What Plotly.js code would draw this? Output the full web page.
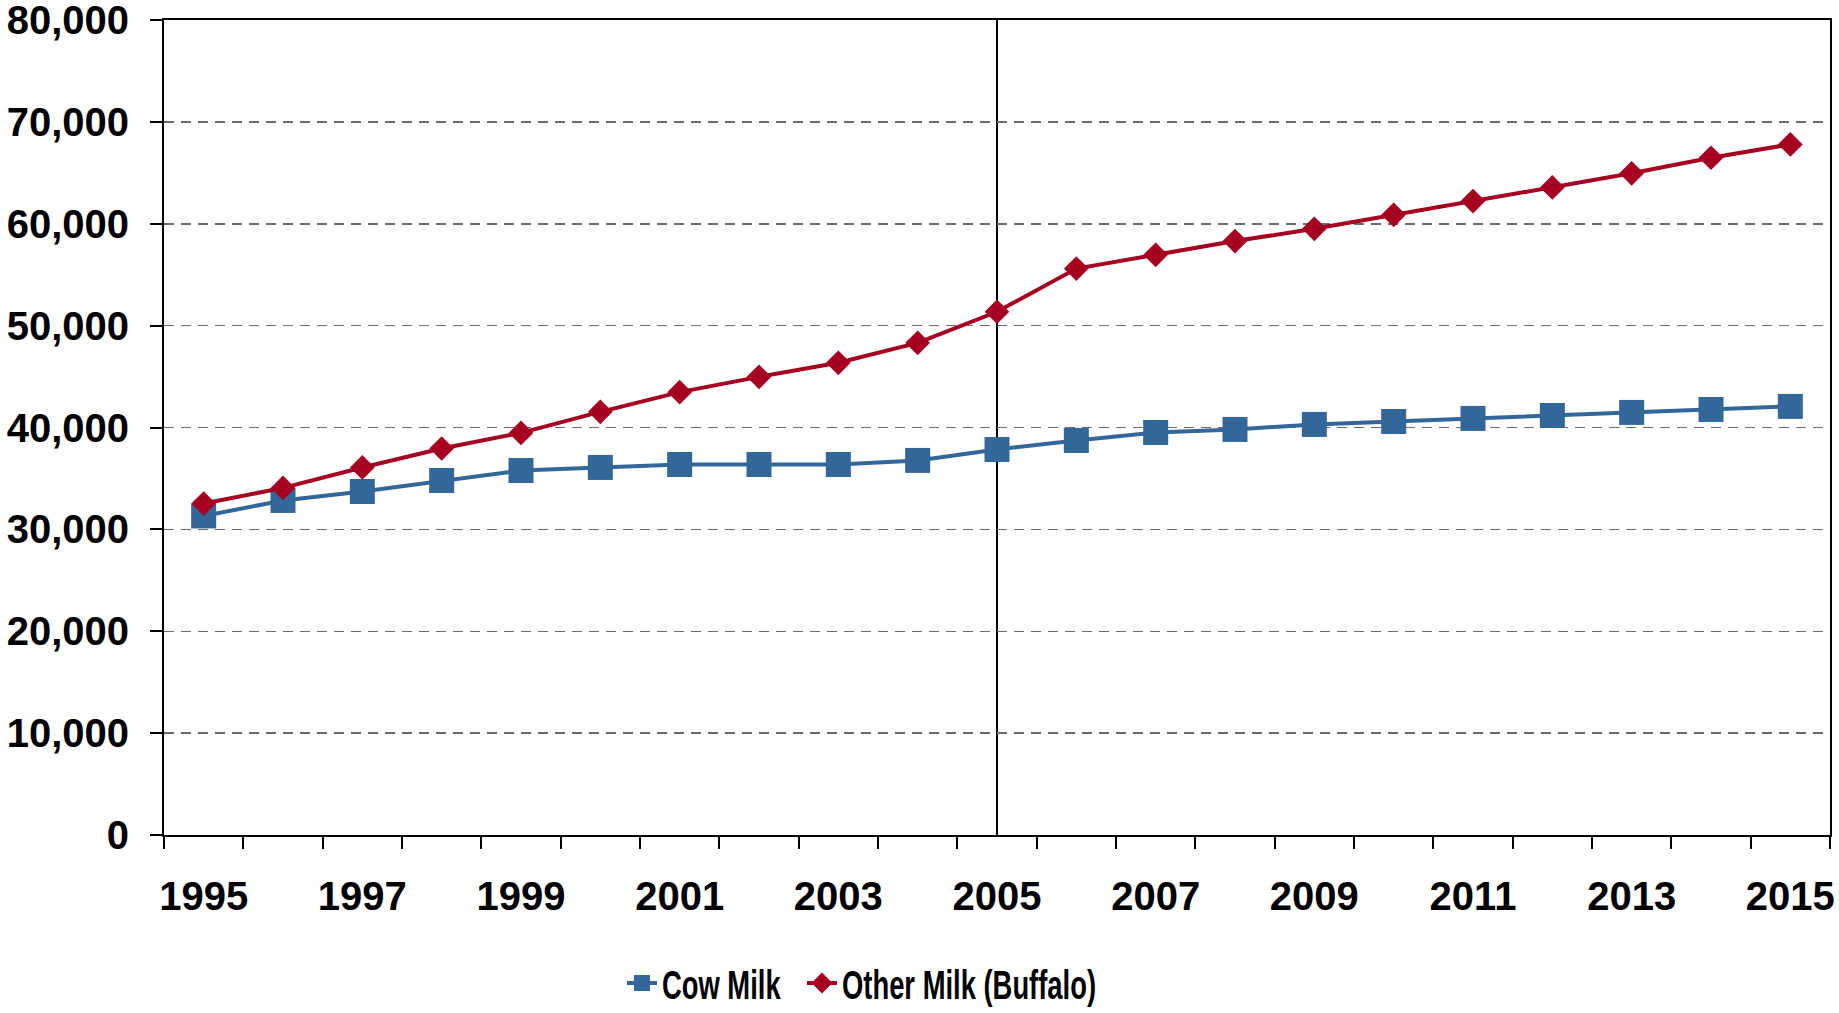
<!DOCTYPE html>
<html>
<head>
<meta charset="utf-8">
<script src="https://cdn.plot.ly/plotly-3.0.1.min.js"></script>
<style>
html,body{margin:0;padding:0;background:#fff;}
#chart{width:1839px;height:1013px;}
/* The reference legend text is horizontally condensed */
#chart .legendtext, #chart .legend2text{transform-box:fill-box;transform-origin:left center;transform:scaleX(0.685);}
</style>
</head>
<body>
<div id="chart"></div>
<script>
// Data
const years = [1995,1996,1997,1998,1999,2000,2001,2002,2003,2004,2005,2006,2007,2008,2009,2010,2011,2012,2013,2014,2015];
const cowMilk = [31320,32840,33720,34800,35780,36080,36370,36370,36370,36770,37840,38730,39510,39810,40300,40590,40890,41180,41480,41770,42070];
const otherMilk = [32540,34070,36080,37940,39470,41540,43470,44970,46350,48310,51360,55600,56950,58300,59500,60880,62230,63570,64950,66480,67790];
const labelYears = [1995,1997,1999,2001,2003,2005,2007,2009,2011,2013,2015];
const yTicks = [0,10000,20000,30000,40000,50000,60000,70000,80000];
const markerYear = 2005;
const seriesNames = ['Cow Milk', 'Other Milk (Buffalo)'];

const FONT = 'Liberation Sans, Arial, sans-serif';

const traces = [
  {
    x: years, y: cowMilk, name: seriesNames[0], type: 'scatter', mode: 'lines+markers',
    line: {color: '#336699', width: 4},
    marker: {symbol: 'square', size: 25, color: '#336699'},
    legend: 'legend'
  },
  {
    x: years, y: otherMilk, name: seriesNames[1], type: 'scatter', mode: 'lines+markers',
    line: {color: '#A50021', width: 4},
    marker: {symbol: 'diamond', size: 19, color: '#A50021'},
    legend: 'legend2'
  }
];

const legendFont = {family: FONT, size: 40, weight: 'bold', color: '#000'};

const layout = {
  width: 1839, height: 1013,
  margin: {l: 164, r: 9, t: 20, b: 178, autoexpand: false},
  paper_bgcolor: '#ffffff', plot_bgcolor: '#ffffff',
  font: {family: FONT, color: '#000000', size: 40},
  showlegend: true,
  legend: {
    orientation: 'h', xref: 'container', yref: 'container',
    x: 0.3382, xanchor: 'left', y: 0.0296, yanchor: 'middle',
    font: legendFont, bgcolor: 'rgba(0,0,0,0)'
  },
  legend2: {
    orientation: 'h', xref: 'container', yref: 'container',
    x: 0.4361, xanchor: 'left', y: 0.0296, yanchor: 'middle',
    font: legendFont, bgcolor: 'rgba(0,0,0,0)'
  },
  xaxis: {
    range: [years[0] - 0.5, years[years.length - 1] + 0.5],
    tickmode: 'array', tickvals: labelYears, ticktext: labelYears.map(String),
    ticks: '', showgrid: false, zeroline: false, automargin: false,
    showline: true, linecolor: '#000', linewidth: 2, mirror: true,
    tickfont: {family: FONT, size: 40, weight: 'bold', color: '#000'},
    ticklabelstandoff: 25,
    minor: {tick0: years[0] - 0.5, dtick: 1, ticks: 'outside', ticklen: 12, tickwidth: 2, tickcolor: '#000', showgrid: false}
  },
  yaxis: {
    range: [0, 80000], automargin: false,
    tickmode: 'array', tickvals: yTicks, ticktext: yTicks.map(v => v.toLocaleString('en-US')),
    ticks: 'outside', ticklen: 12, tickwidth: 2, tickcolor: '#000',
    ticklabeloverflow: 'allow', ticklabelstandoff: 13,
    showgrid: true, gridcolor: '#6b6b6b', gridwidth: 1.5, griddash: '10px,7px',
    zeroline: false,
    showline: true, linecolor: '#000', linewidth: 2, mirror: true,
    tickfont: {family: FONT, size: 40, weight: 'bold', color: '#000'}
  },
  shapes: [
    {type: 'line', xref: 'x', yref: 'paper', x0: markerYear, x1: markerYear, y0: 0, y1: 1,
     line: {color: '#000', width: 2}, layer: 'below'}
  ]
};

Plotly.newPlot('chart', traces, layout, {displayModeBar: false, staticPlot: true});
</script>
</body>
</html>
